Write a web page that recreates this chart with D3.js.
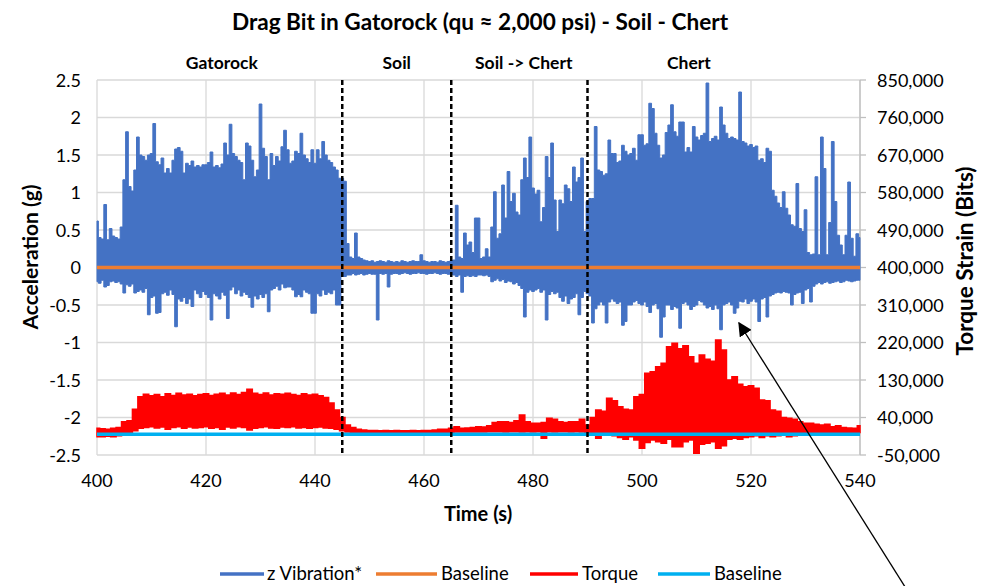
<!DOCTYPE html>
<html><head><meta charset="utf-8">
<script src="https://cdn.jsdelivr.net/npm/d3@7"></script>
<style>
body{margin:0;background:#fff}
svg{display:block}
text{font-family:Lato,"Open Sans",sans-serif;fill:#000}
</style>
</head><body>
<svg id="chart" width="994" height="586"></svg>
<script>
// ---------------- DATA ----------------
const chartTitle = "Drag Bit in Gatorock (qu \u2248 2,000 psi) - Soil - Chert";
const xTicks = [400, 420, 440, 460, 480, 500, 520, 540];
const leftTicks = [-2.5, -2, -1.5, -1, -0.5, 0, 0.5, 1, 1.5, 2, 2.5];
const rightTicks = [-50000, 40000, 130000, 220000, 310000, 400000, 490000, 580000, 670000, 760000, 850000];
const sectionNames = ["Gatorock", "Soil", "Soil -> Chert", "Chert"];
const sectionCenters = [422.9, 455, 478.3, 508.6];
const boundaries = [445, 465, 490];
const seriesNames = ["z Vibration*", "Baseline", "Torque", "Baseline"];
const vibBaseline = 0;        // g
const torqueBaseline = 0;     // bits

// z vibration envelope, every 0.5 s from 400 s
const zStart = 400, zStep = 0.5;
const zHigh = [
 0.62,0.40,0.38,0.84,0.37,0.52,0.42,0.40,0.38,0.54,
 1.17,1.81,1.08,1.02,1.30,1.74,1.50,1.48,1.43,1.50,
 1.52,1.92,1.41,1.37,1.46,1.26,1.32,1.26,1.43,1.58,
 1.60,1.55,1.26,1.39,1.36,1.42,1.34,1.36,1.34,1.37,
 1.37,1.40,1.54,1.34,1.36,1.33,1.38,1.66,1.50,1.91,
 1.52,1.48,1.43,1.40,1.17,1.66,1.62,1.43,1.21,1.30,
 2.18,1.59,1.48,1.17,1.52,1.36,1.48,1.42,1.61,1.83,
 1.57,1.39,1.42,1.55,1.52,1.79,1.50,1.45,1.40,1.57,
 1.39,1.57,1.45,1.68,1.50,1.43,1.40,1.34,1.30,1.19,
 1.19,1.15,0.32,0.14,0.12,0.46,0.14,0.12,0.10,0.09,
 0.08,0.09,0.07,0.08,0.09,0.08,0.07,0.09,0.08,0.07,
 0.08,0.07,0.09,0.08,0.07,0.08,0.09,0.08,0.08,0.17,
 0.09,0.08,0.07,0.08,0.08,0.07,0.09,0.08,0.07,0.08,
 0.09,0.10,0.83,0.14,0.12,0.46,0.30,0.34,0.20,0.66,
 0.66,0.12,0.14,0.25,0.14,0.54,1.01,0.39,0.45,1.10,
 0.66,1.28,0.88,0.99,0.74,0.70,1.17,1.46,1.20,1.74,
 1.06,0.98,1.03,0.61,0.80,1.48,1.20,1.66,0.90,0.48,
 0.90,0.85,1.10,1.05,0.88,1.34,1.14,1.20,1.46,0.48,
 0.88,0.92,0.92,1.88,1.30,1.28,1.23,1.25,1.70,1.52,
 1.52,1.40,1.42,1.63,1.55,1.50,1.52,1.59,1.43,1.77,
 1.77,1.63,1.65,2.19,2.12,1.79,1.63,1.46,1.50,1.80,
 1.90,2.17,1.81,1.75,1.94,1.94,1.54,1.60,1.54,1.88,
 1.74,1.70,1.76,1.79,2.46,1.68,1.72,1.75,1.70,2.14,
 1.90,1.79,1.72,1.74,1.72,1.70,2.34,1.68,1.66,1.62,
 1.64,1.60,1.62,1.43,1.45,1.40,1.59,1.55,1.03,0.95,
 0.86,0.80,1.01,0.79,0.70,0.57,0.55,1.12,0.52,0.48,
 0.77,0.20,0.17,0.18,1.21,0.17,1.74,1.32,0.17,0.60,
 1.68,0.88,0.43,0.30,0.17,0.43,1.14,0.39,0.15,0.45,
 0.40
];
const zLow = [
 -0.19,-0.21,-0.17,-0.26,-0.24,-0.19,-0.18,-0.20,-0.19,-0.22,
 -0.34,-0.23,-0.25,-0.22,-0.34,-0.32,-0.30,-0.33,-0.28,-0.63,
 -0.40,-0.38,-0.61,-0.60,-0.35,-0.33,-0.37,-0.30,-0.36,-0.79,
 -0.42,-0.45,-0.40,-0.48,-0.42,-0.52,-0.30,-0.35,-0.40,-0.32,
 -0.36,-0.40,-0.70,-0.35,-0.38,-0.42,-0.33,-0.37,-0.68,-0.30,
 -0.26,-0.35,-0.30,-0.38,-0.33,-0.36,-0.40,-0.53,-0.38,-0.42,
 -0.36,-0.40,-0.35,-0.59,-0.30,-0.28,-0.25,-0.30,-0.22,-0.27,
 -0.26,-0.26,-0.30,-0.39,-0.36,-0.39,-0.30,-0.33,-0.35,-0.61,
 -0.61,-0.35,-0.38,-0.30,-0.36,-0.33,-0.35,-0.30,-0.50,-0.50,
 -0.12,-0.12,-0.10,-0.10,-0.08,-0.10,-0.09,-0.08,-0.10,-0.09,
 -0.08,-0.09,-0.09,-0.70,-0.08,-0.09,-0.08,-0.26,-0.09,-0.08,
 -0.08,-0.09,-0.08,-0.07,-0.08,-0.09,-0.08,-0.08,-0.07,-0.08,
 -0.08,-0.09,-0.08,-0.08,-0.07,-0.08,-0.09,-0.08,-0.08,-0.09,
 -0.09,-0.10,-0.12,-0.10,-0.33,-0.12,-0.11,-0.12,-0.11,-0.12,
 -0.10,-0.10,-0.11,-0.10,-0.12,-0.19,-0.17,-0.15,-0.18,-0.16,
 -0.20,-0.18,-0.19,-0.22,-0.20,-0.24,-0.28,-0.66,-0.33,-0.30,
 -0.32,-0.30,-0.28,-0.33,-0.30,-0.70,-0.36,-0.32,-0.35,-0.33,
 -0.40,-0.45,-0.38,-0.48,-0.42,-0.40,-0.35,-0.63,-0.40,-0.32,
 -0.35,-0.38,-0.74,-0.55,-0.50,-0.46,-0.50,-0.74,-0.46,-0.42,
 -0.45,-0.48,-0.46,-0.77,-0.72,-0.50,-0.50,-0.46,-0.44,-0.48,
 -0.50,-0.46,-0.52,-0.60,-0.50,-0.48,-0.55,-0.93,-0.66,-0.50,
 -0.50,-0.56,-0.52,-0.54,-0.81,-0.48,-0.46,-0.50,-0.56,-0.52,
 -0.50,-0.44,-0.46,-0.50,-0.54,-0.52,-0.56,-0.50,-0.55,-0.83,
 -0.50,-0.48,-0.46,-0.50,-0.61,-0.54,-0.45,-0.46,-0.42,-0.48,
 -0.45,-0.42,-0.46,-0.72,-0.42,-0.40,-0.66,-0.38,-0.36,-0.34,
 -0.33,-0.34,-0.32,-0.33,-0.34,-0.50,-0.36,-0.34,-0.33,-0.48,
 -0.30,-0.28,-0.46,-0.25,-0.22,-0.20,-0.22,-0.20,-0.19,-0.21,
 -0.20,-0.19,-0.18,-0.20,-0.19,-0.17,-0.18,-0.19,-0.18,-0.17,
 -0.17
];

// torque strain envelope (bits), every 1 s from 400 s
const tStart = 400, tStep = 1;
const torqueHigh = [
 14000,13000,12000,14000,16000,30000,32000,60000,90000,96000,
 92000,95000,90000,97000,93000,98000,94000,96000,92000,95000,
 97000,93000,96000,98000,94000,99000,95000,100000,108000,98000,
 95000,99000,94000,97000,96000,98000,95000,93000,97000,94000,
 96000,92000,88000,75000,58000,40000,22000,16000,12000,10000,
 9000,9000,8000,9000,8000,9000,8000,8000,9000,8000,
 9000,9000,10000,12000,12000,14000,18000,14000,15000,16000,
 18000,17000,20000,28000,30000,30000,28000,32000,46000,30000,
 26000,26000,28000,38000,36000,30000,28000,30000,30000,36000,
 22000,40000,58000,55000,86000,80000,66000,60000,58000,90000,
 95000,146000,150000,162000,170000,210000,218000,205000,212000,186000,
 170000,190000,180000,175000,226000,202000,130000,138000,120000,114000,
 116000,110000,82000,80000,58000,55000,40000,38000,36000,30000,
 26000,26000,24000,22000,24000,18000,20000,16000,15000,14000,
 20000
];
const torqueLow = [
 -6000,-6000,-5000,-6000,-4000,2000,4000,8000,14000,16000,
 18000,15000,17000,12000,16000,18000,14000,17000,15000,16000,
 18000,14000,16000,12000,17000,15000,18000,16000,10000,14000,
 16000,18000,15000,14000,17000,16000,18000,15000,16000,14000,
 16000,17000,15000,14000,12000,8000,5000,4000,4000,4000,
 3000,3000,3000,3000,3000,3000,3000,3000,3000,3000,
 3000,3000,3000,4000,4000,4000,5000,5000,5000,5000,
 5000,5000,6000,6000,6000,5000,6000,6000,5000,6000,
 5000,6000,-10000,6000,5000,6000,6000,5000,6000,5000,
 4000,4000,-10000,2000,0,-4000,-8000,-12000,-6000,-14000,
 -34000,-20000,-14000,-18000,-22000,-12000,-30000,-30000,-18000,-14000,
 -46000,-24000,-22000,-18000,-34000,-28000,-12000,-10000,-12000,-8000,
 -6000,-4000,-8000,-4000,-6000,-4000,-2000,-6000,-4000,-2000,
 0,2000,4000,4000,4000,4000,4000,4000,4000,4000,
 4000
];

// ---------------- DRAW ----------------
const colors = {vib:"#4472C4", vibBase:"#ED7D31", torque:"#FF0000", torqueBase:"#00B0F0", grid:"#D9D9D9"};
const svg = d3.select("#chart");
const L = 97, R = 860, T = 80, B = 455;
const x = d3.scaleLinear().domain([xTicks[0], xTicks[xTicks.length-1]]).range([L, R]);
const yL = d3.scaleLinear().domain([leftTicks[0], leftTicks[leftTicks.length-1]]).range([B, T]);
const yR = d3.scaleLinear().domain([rightTicks[0], rightTicks[rightTicks.length-1]]).range([B, T]);

// grid
const g = svg.append("g");
g.selectAll("line.h").data(leftTicks).join("line")
  .attr("x1", L).attr("x2", R).attr("y1", d=>yL(d)).attr("y2", d=>yL(d))
  .attr("stroke", colors.grid).attr("stroke-width", 1.3);
g.selectAll("line.v").data(xTicks).join("line")
  .attr("y1", T).attr("y2", B).attr("x1", d=>x(d)).attr("x2", d=>x(d))
  .attr("stroke", colors.grid).attr("stroke-width", 1.3);

// right axis line + ticks
svg.append("line").attr("x1", R).attr("x2", R).attr("y1", T).attr("y2", B)
  .attr("stroke", "#BFBFBF").attr("stroke-width", 1.3);
svg.selectAll("line.rt").data(rightTicks).join("line")
  .attr("x1", R).attr("x2", R+6).attr("y1", d=>yR(d)).attr("y2", d=>yR(d))
  .attr("stroke", "#BFBFBF").attr("stroke-width", 1.3);

// z vibration
const zData = zHigh.map((h,i)=>({t: zStart + i*zStep, hi: h, lo: zLow[i]}));
svg.append("path").datum(zData)
  .attr("d", d3.area().x(d=>x(d.t)).y0(d=>yL(d.lo)).y1(d=>yL(d.hi)).curve(d3.curveStep))
  .attr("fill", colors.vib).attr("stroke", colors.vib).attr("stroke-width", 1);

// vib baseline
svg.append("line").attr("x1", L).attr("x2", R).attr("y1", yL(vibBaseline)).attr("y2", yL(vibBaseline))
  .attr("stroke", colors.vibBase).attr("stroke-width", 3.5);

// torque
const tData = torqueHigh.map((h,i)=>({t: tStart + i*tStep, hi: h, lo: torqueLow[i]}));
svg.append("path").datum(tData)
  .attr("d", d3.area().x(d=>x(d.t)).y0(d=>yR(d.lo)).y1(d=>yR(d.hi)).curve(d3.curveStep))
  .attr("fill", colors.torque).attr("stroke", colors.torque).attr("stroke-width", 1.5);

// torque baseline
svg.append("line").attr("x1", L).attr("x2", R).attr("y1", yR(torqueBaseline)).attr("y2", yR(torqueBaseline))
  .attr("stroke", colors.torqueBase).attr("stroke-width", 3.5);

// section boundaries
svg.selectAll("line.bd").data(boundaries).join("line")
  .attr("x1", d=>x(d)).attr("x2", d=>x(d)).attr("y1", T).attr("y2", B)
  .attr("stroke", "#000").attr("stroke-width", 2.5).attr("stroke-dasharray", "5,3");

// section labels
svg.selectAll("text.sec").data(sectionNames).join("text")
  .attr("x", (d,i)=>x(sectionCenters[i])).attr("y", 69)
  .attr("text-anchor", "middle").attr("font-size", 17.5).attr("font-weight", "bold").text(d=>d);

// tick labels
const fmtL = v => String(v).replace("\u2212","-");
const fmtR = v => (v<0?"-":"") + d3.format(",")(Math.abs(v));
svg.selectAll("text.lt").data(leftTicks).join("text")
  .attr("x", 81).attr("y", d=>yL(d)+6.5).attr("text-anchor","end").attr("font-size", 18).text(fmtL);
svg.selectAll("text.rt").data(rightTicks).join("text")
  .attr("x", 877).attr("y", d=>yR(d)+6.5).attr("text-anchor","start").attr("font-size", 18).text(fmtR);
svg.selectAll("text.xt").data(xTicks).join("text")
  .attr("x", d=>x(d)).attr("y", 487).attr("text-anchor","middle").attr("font-size", 18).text(d=>d);

// axis titles
svg.append("text").attr("x", 478).attr("y", 521).attr("text-anchor","middle")
  .attr("font-size", 20).attr("font-weight","bold").text("Time (s)");
svg.append("text").attr("transform", "translate(38,257) rotate(-90)").attr("text-anchor","middle")
  .attr("font-size", 21).attr("font-weight","bold").text("Acceleration (g)");
svg.append("text").attr("transform", "translate(973,261) rotate(-90)").attr("text-anchor","middle")
  .attr("font-size", 22.5).attr("font-weight","bold").text("Torque Strain (Bits)");

// title
svg.append("text").attr("x", 480).attr("y", 30).attr("text-anchor","middle")
  .attr("font-size", 22.6).attr("font-weight","bold").text(chartTitle);

// legend
const legendLineX = [[220, 264], [376, 437], [530, 578], [658, 710]];
const legendTextX = [267, 441, 582, 714];
const legendColors = [colors.vib, colors.vibBase, colors.torque, colors.torqueBase];
const lg = svg.selectAll("g.lg").data(seriesNames).join("g");
lg.append("line").attr("x1", (d,i)=>legendLineX[i][0]).attr("x2", (d,i)=>legendLineX[i][1])
  .attr("y1", 574).attr("y2", 574)
  .attr("stroke", (d,i)=>legendColors[i]).attr("stroke-width", 3.5);
lg.append("text").attr("x", (d,i)=>legendTextX[i]).attr("y", 580).attr("font-size", 18.5).text(d=>d);

// annotation arrow
svg.append("defs").append("marker").attr("id","ah").attr("viewBox","0 0 10 10")
  .attr("refX", 9).attr("refY", 5).attr("markerWidth", 14).attr("markerHeight", 14)
  .attr("orient","auto").attr("markerUnits","userSpaceOnUse")
  .append("path").attr("d","M0,0 L10,5 L0,10 z").attr("fill","#000");
svg.append("line").attr("x1", 907).attr("y1", 590).attr("x2", 739).attr("y2", 323)
  .attr("stroke","#000").attr("stroke-width", 1.3).attr("marker-end","url(#ah)");
</script>
</body></html>
